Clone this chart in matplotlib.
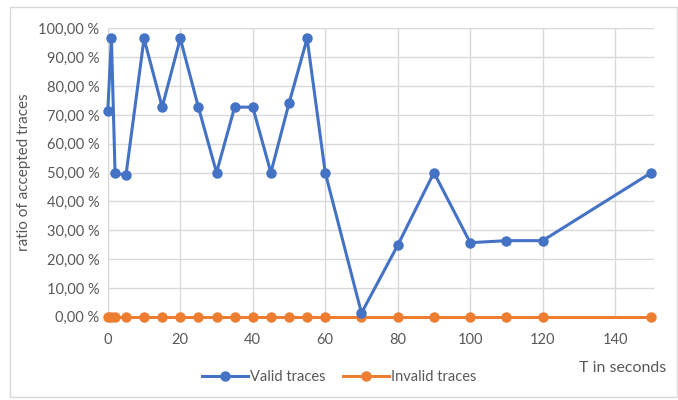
import matplotlib.pyplot as plt
from matplotlib.ticker import FuncFormatter, MultipleLocator
from matplotlib.patches import Rectangle

t_seconds = [0, 1, 2, 5, 10, 15, 20, 25, 30, 35, 40, 45, 50, 55, 60,
             70, 80, 90, 100, 110, 120, 150]
valid_ratio = [71.5, 96.5, 50.0, 49.0, 96.5, 72.7, 96.5, 72.7, 50.0, 72.7,
               72.7, 50.0, 74.0, 96.5, 50.0, 1.3, 24.8, 50.0, 25.7, 26.4,
               26.4, 50.0]
invalid_ratio = [0.0] * len(t_seconds)

x_ticks = [0, 20, 40, 60, 80, 100, 120, 140]

BLUE = "#4472C4"
ORANGE = "#ED7D31"
GREY = "#595959"

plt.rcParams["font.family"] = ["Lato", "DejaVu Sans"]

fig = plt.figure(figsize=(6.78, 4.0), dpi=100)
ax = fig.add_axes([0.159, 0.208, 0.806, 0.721])

ax.plot(t_seconds, valid_ratio, "-o", color=BLUE, lw=2.2, ms=6.5,
        label="Valid traces", clip_on=False, zorder=4)
ax.plot(t_seconds, invalid_ratio, "-o", color=ORANGE, lw=2.2, ms=6.5,
        label="Invalid traces", clip_on=False, zorder=3)

ax.set_xlim(0, 150.8)
ax.set_ylim(0, 100)
ax.set_xticks(x_ticks)
ax.yaxis.set_major_locator(MultipleLocator(10))
ax.yaxis.set_major_formatter(
    FuncFormatter(lambda v, p: f"{v:.2f}".replace(".", ",") + " %"))

ax.grid(True, color="#D9D9D9", lw=1.0)
ax.set_axisbelow(True)
for s in ["top", "right", "bottom"]:
    ax.spines[s].set_visible(False)
ax.spines["left"].set_color("#D9D9D9")
ax.tick_params(length=0, labelsize=10.5, labelcolor=GREY, pad=6)
ax.tick_params(axis="x", pad=12)

ax.set_ylabel("ratio of accepted traces", fontsize=11, color=GREY)
ax.yaxis.set_label_coords(-0.14, 0.5)
fig.text(0.982, 0.063, "T in seconds", fontsize=11.5, color=GREY,
         ha="right", va="bottom")

fig.legend(loc="center", bbox_to_anchor=(0.5, 0.057), ncol=2, frameon=False,
           fontsize=10.5, labelcolor=GREY, handlelength=3.2,
           handletextpad=0.1, columnspacing=1.2)

fig.patches.append(Rectangle((0.0148, 0.0075), 0.9837, 0.975,
                             transform=fig.transFigure, fill=False,
                             edgecolor="#D9D9D9", lw=1.0))

fig.savefig("out.png", dpi=100)
